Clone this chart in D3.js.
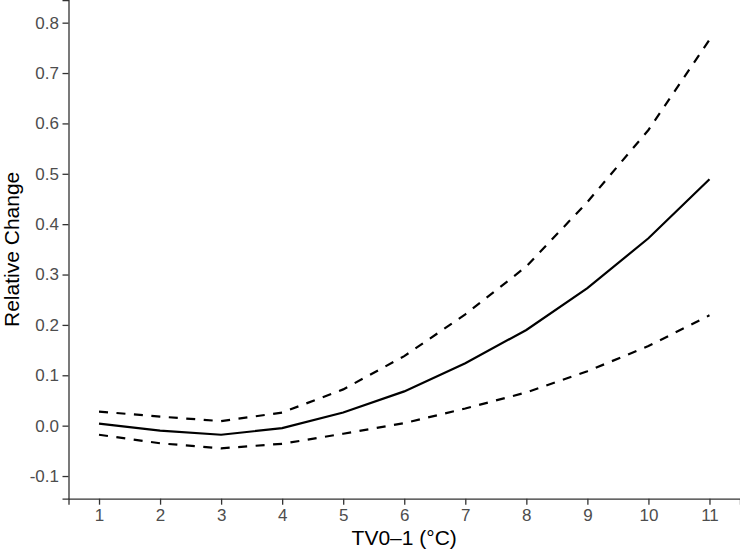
<!DOCTYPE html>
<html>
<head>
<meta charset="utf-8">
<script src="https://cdn.jsdelivr.net/npm/d3@7"></script>
<style>
  body { margin: 0; background: #fff; }
  svg { display: block; }
</style>
</head>
<body>
<svg id="chart" width="740" height="551"></svg>
<script>
const xValues = [1, 2, 3, 4, 5, 6, 7, 8, 9, 10, 11];
const estimate = [0.004, -0.010, -0.018, -0.005, 0.026, 0.068, 0.124, 0.190, 0.273, 0.372, 0.489];
const upper = [0.028, 0.018, 0.009, 0.026, 0.072, 0.138, 0.221, 0.316, 0.444, 0.587, 0.766];
const lower = [-0.018, -0.035, -0.045, -0.036, -0.016, 0.005, 0.034, 0.066, 0.108, 0.158, 0.219];
const xTicks = [1, 2, 3, 4, 5, 6, 7, 8, 9, 10, 11];
const yTicks = [-0.1, 0.0, 0.1, 0.2, 0.3, 0.4, 0.5, 0.6, 0.7, 0.8];
const xTitle = "TV0\u20131 (\u00B0C)";
const yTitle = "Relative Change";

const svg = d3.select("#chart");
const mLeft = 68.5, mRight = 740, mTop = 0, mBottom = 498.7;

const x = d3.scaleLinear().domain([0.5, 11.5]).range([mLeft, mRight]);
const y = d3.scaleLinear().domain([-0.145, 0.845]).range([mBottom, mTop]);

const font = "Liberation Sans, Arial, Helvetica, sans-serif";

// axes
const xAxis = svg.append("g")
  .attr("transform", `translate(0,${mBottom})`)
  .call(d3.axisBottom(x).tickValues(xTicks).tickSize(6).tickPadding(4.2).tickFormat(d3.format("d")));
const yAxis = svg.append("g")
  .attr("transform", `translate(${mLeft},0)`)
  .call(d3.axisLeft(y).tickValues(yTicks).tickSize(6).tickPadding(3.5).tickFormat(d3.format(".1f")));

[xAxis, yAxis].forEach(g => {
  g.attr("font-size", null);
  g.select(".domain").attr("stroke", "#333").attr("stroke-width", 1.3);
  g.selectAll(".tick line").attr("stroke", "#333").attr("stroke-width", 1.3);
  g.selectAll(".tick text").attr("fill", "#4d4d4d").style("font-family", font).style("font-size", "17px");
});
yAxis.selectAll(".tick text").text(d => d3.format(".1f")(d).replace("\u2212", "-"));

// lines
const line = d3.line().x((d, i) => x(xValues[i])).y(d => y(d));
svg.append("path").datum(upper).attr("d", line)
  .attr("fill", "none").attr("stroke", "#000").attr("stroke-width", 2.2).attr("stroke-dasharray", "9,8.5");
svg.append("path").datum(lower).attr("d", line)
  .attr("fill", "none").attr("stroke", "#000").attr("stroke-width", 2.2).attr("stroke-dasharray", "9,8.5");
svg.append("path").datum(estimate).attr("d", line)
  .attr("fill", "none").attr("stroke", "#000").attr("stroke-width", 2.2);

// titles
svg.append("text")
  .attr("x", (mLeft + mRight) / 2).attr("y", 545)
  .attr("text-anchor", "middle")
  .style("font-family", font).style("font-size", "21px").attr("fill", "#000")
  .text(xTitle);
svg.append("text")
  .attr("transform", `translate(19,${(mTop + mBottom) / 2}) rotate(-90)`)
  .attr("text-anchor", "middle")
  .style("font-family", font).style("font-size", "21px").attr("fill", "#000")
  .text(yTitle);
</script>
</body>
</html>
